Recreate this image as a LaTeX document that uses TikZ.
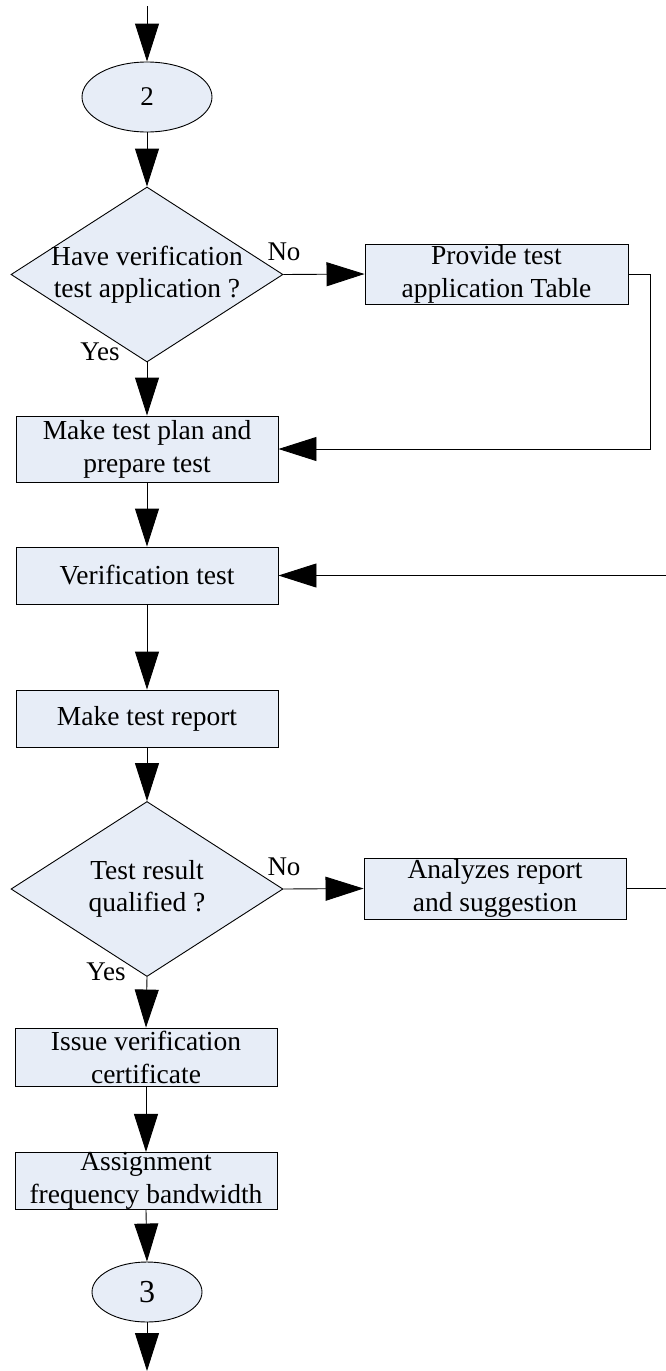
\documentclass[tikz,border=0pt]{standalone}
\usepackage{fontspec}
\setmainfont{Liberation Serif}
\usetikzlibrary{shapes.geometric,arrows.meta}
\definecolor{boxfill}{RGB}{231,237,247}
\tikzset{
  arr/.style={draw=black, line width=0.9pt, -{Triangle[length=38pt,width=24pt]}},
  ln/.style={draw=black, line width=0.9pt},
  procbox/.style={draw=black, line width=0.9pt, fill=boxfill, rectangle, minimum width=262pt, inner sep=0pt, align=center, font=\fontsize{27.5}{33}\selectfont},
  conn/.style={draw=black, line width=0.9pt, fill=boxfill, ellipse, inner sep=0pt},
  decision/.style={draw=black, line width=0.9pt, fill=boxfill, diamond, minimum width=272pt, minimum height=175pt, inner sep=0pt},
  dtext/.style={align=center, font=\fontsize{27.5}{32}\selectfont},
  lbl/.style={font=\fontsize{27}{32}\selectfont, inner sep=0pt}
}
\begin{document}
\begin{tikzpicture}[x=1pt,y=-1pt]
\useasboundingbox (0,0) rectangle (666,1371);
% nodes
\node[conn, minimum width=130pt, minimum height=70pt, font=\fontsize{27}{32}\selectfont] (e2) at (147,97) {2};
\node[decision] (d1) at (147,274.5) {};
\node[dtext] (d1t) at (d1.center) {Have verification\\test application ?};
\node[procbox, minimum width=263pt, minimum height=60pt] (prov) at (496.5,274) {Provide test\\application Table};
\node[procbox, minimum height=66pt] (plan) at (147,449) {Make test plan and\\prepare test};
\node[procbox, minimum height=57pt] (verif) at (147,575.5) {Verification test};
\node[procbox, minimum height=57pt] (rep) at (147,718.5) {Make test report};
\node[decision] (d2) at (147,889) {};
\node[dtext] (d2t) at (d2.center) {Test result\\qualified ?};
\node[procbox, minimum height=61pt] (ana) at (495,888.5) {Analyzes report\\and suggestion};
\node[procbox, minimum height=58pt] (iss) at (146,1057) {Issue verification\\certificate};
\node[procbox, minimum height=56pt] (asg) at (146,1181) {Assignment\\frequency bandwidth};
\node[conn, minimum width=110pt, minimum height=60pt, font=\fontsize{32}{38}\selectfont] (e3) at (147,1292) {3};
% labels
\node[lbl] (no1) at (284,252) {No};
\node[lbl] (yes1) at (100,352) {Yes};
\node[lbl] (no2) at (284,867) {No};
\node[lbl] (yes2) at (106,972) {Yes};
% free ends
\coordinate (top) at (147,6);
\coordinate (inR) at (666,575.5);
\coordinate (outR) at (666,888.5);
\coordinate (bot) at (147,1371);
% connectors
\draw[arr] (top) -- (e2.north);
\draw[arr] (e2.south) -- (d1.north);
\draw[arr] (d1.east) -- (prov.west);
\draw[arr] (prov.east) -- ++(22,0) |- (plan.east);
\draw[arr] (d1.south) -- (plan.north);
\draw[arr] (plan.south) -- (verif.north);
\draw[arr] (inR) -- (verif.east);
\draw[arr] (verif.south) -- (rep.north);
\draw[arr] (rep.south) -- (d2.north);
\draw[arr] (d2.east) -- (ana.west);
\draw[ln] (ana.east) -- (outR);
\draw[arr] (d2.south) -- (iss.north);
\draw[arr] (iss.south) -- (asg.north);
\draw[arr] (asg.south) -- (e3.north);
\draw[arr] (e3.south) -- (bot);
\end{tikzpicture}
\end{document}
